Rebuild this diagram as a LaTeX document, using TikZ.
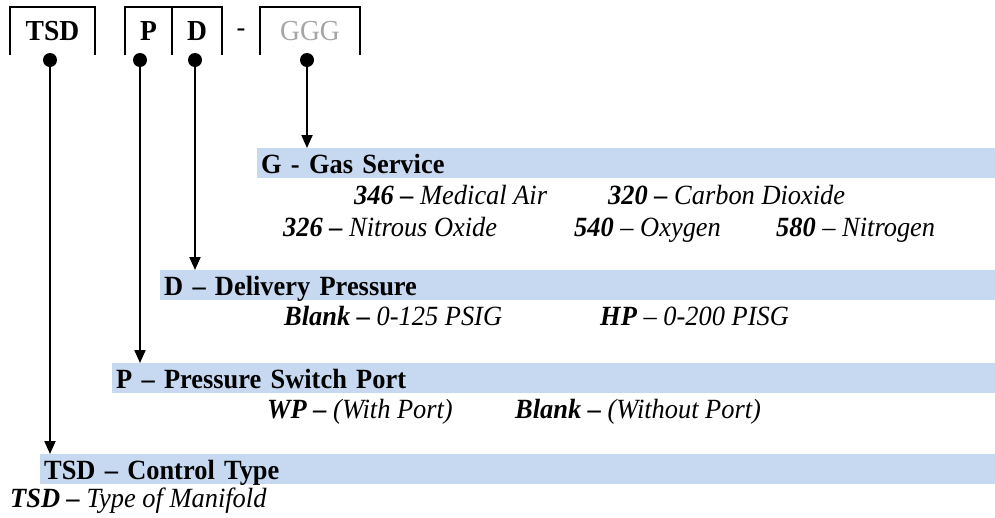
\documentclass[tikz,border=0pt]{standalone}
\usepackage{fontspec}
\setmainfont{Liberation Serif}[FakeStretch=0.95]
\usetikzlibrary{arrows.meta}
\definecolor{barblue}{RGB}{198,217,241}
\definecolor{codegrey}{RGB}{165,165,165}
\newcommand{\bi}[1]{\textbf{\textit{#1}}}
\begin{document}
\begin{tikzpicture}[x=1pt,y=1pt,%
        every node/.style={font=\fontsize{27.8}{32}\selectfont},%
        code/.style={font=\fontsize{29}{33}\selectfont\bfseries,
          minimum height=48pt,inner sep=0pt},
        dot/.style={circle,fill=black,inner sep=0pt,minimum size=14pt},
        bar/.style={fill=barblue,anchor=north west,minimum height=30pt,
          inner ysep=0pt,inner xsep=4pt,text height=20pt,text depth=0pt,
          align=left,font=\fontsize{27.8}{32}\selectfont\bfseries},
        opt/.style={anchor=base west,inner sep=0pt},
        lead/.style={line width=2pt,-{Triangle[length=13pt,width=11pt]}},
        bracket/.style={line width=2pt}]
        \useasboundingbox (0,0) rectangle (995,-517);
        \node[code,minimum width=85pt] (tsd) at (52.5,-31) {TSD};
        \node[code,minimum width=47pt] (p) at (148.5,-31) {P};
        \node[code,minimum width=50pt] (d) at (197,-31) {D};
        \node (sep) at (241,-33) {-};
        \node[code,minimum width=100pt,text=codegrey,font=\fontsize{29}{33}\selectfont]
        (g) at (310,-31) {GGG};
        \draw[bracket] (tsd.south west) -- (tsd.north west) -- (tsd.north east)
        -- (tsd.south east);
        \draw[bracket] (p.south west) -- (p.north west) -- (d.north east) --
        (d.south east); \draw[bracket] (p.north east) -- (p.south east);
        \draw[bracket] (g.south west) -- (g.north west) -- (g.north east) --
        (g.south east);
        \node[dot] (tsddot) at (50,-60) {}; \node[dot] (pdot) at (140,-60) {};
        \node[dot] (ddot) at (195,-60) {}; \node[dot] (gdot) at (307,-60) {};
        \node[bar,text width=730pt] (gbar) at (257,-148) {G - Gas Service};
        \node[bar,text width=827pt] (dbar) at (160,-270) {D -- Delivery Pressure};
        \node[bar,text width=875pt] (pbar) at (112,-363) {P -- Pressure Switch Port};
        \node[bar,text width=947pt] (tsdbar) at (40,-454) {TSD -- Control Type};
        \draw[lead] (gdot.center) -- (gdot |- gbar.north);
        \draw[lead] (ddot.center) -- (ddot |- dbar.north);
        \draw[lead] (pdot.center) -- (pdot |- pbar.north);
        \draw[lead] (tsddot.center) -- (tsddot |- tsdbar.north);
        \node[opt] (air) at (354,-204) {\bi{346 --} \textit{Medical Air}};
        \node[opt] (co2) at (608,-204) {\bi{320 --} \textit{Carbon Dioxide}};
        \node[opt] (n2o) at (283,-236) {\bi{326 --} \textit{Nitrous Oxide}};
        \node[opt] (o2) at (574,-236) {\bi{540} \textit{-- Oxygen}};
        \node[opt] (n2) at (776,-236) {\bi{580} \textit{-- Nitrogen}};
        \node[opt] (std) at (284,-325) {\bi{Blank --} \textit{0-125 PSIG}};
        \node[opt] (hp) at (600,-325) {\bi{HP} \textit{-- 0-200 PISG}};
        \node[opt] (wp) at (267,-418) {\bi{WP --} \textit{(With Port)}};
        \node[opt] (nop) at (515,-418) {\bi{Blank --} \textit{(Without Port)}};
        \node[opt] (type) at (10,-507) {\bi{TSD --} \textit{Type of Manifold}};
      \end{tikzpicture}
\end{document}
